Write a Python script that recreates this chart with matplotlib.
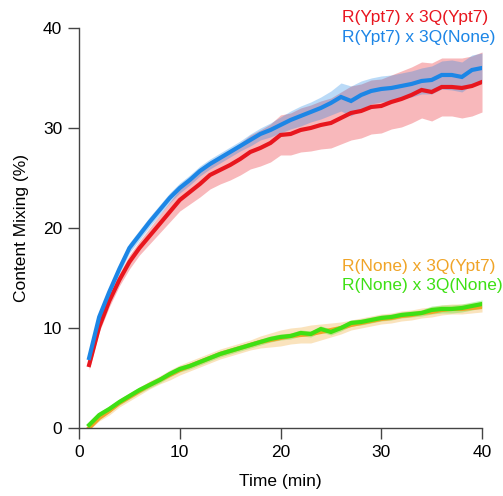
import matplotlib
matplotlib.use("Agg")
import matplotlib.pyplot as plt
import numpy as np

plt.rcParams['font.family'] = ['Liberation Sans', 'DejaVu Sans']

time_min = list(range(1, 41))

ypt7_ypt7 = [6.3, 10.1, 12.7, 14.8, 16.6, 18.0, 19.2, 20.4, 21.6, 22.8,
             23.6, 24.4, 25.3, 25.8, 26.3, 26.9, 27.6, 28.0, 28.5, 29.3,
             29.4, 29.8, 30.0, 30.3, 30.5, 31.0, 31.5, 31.7, 32.1, 32.2,
             32.6, 32.9, 33.3, 33.8, 33.6, 34.1, 34.1, 34.0, 34.2, 34.6]
ypt7_ypt7_err = [0.5, 0.5, 0.6, 0.6, 0.7, 0.7, 0.8, 0.9, 1.0, 1.1,
                 1.2, 1.3, 1.4, 1.4, 1.5, 1.6, 1.7, 1.8, 1.9, 2.0,
                 2.1, 2.2, 2.3, 2.4, 2.5, 2.6, 2.7, 2.7, 2.7, 2.7,
                 2.7, 2.8, 2.8, 2.8, 2.9, 2.9, 2.9, 3.0, 3.0, 3.0]

ypt7_none = [7.0, 11.1, 13.6, 15.9, 18.0, 19.3, 20.6, 21.8, 23.0, 24.0,
             24.8, 25.7, 26.4, 27.0, 27.6, 28.2, 28.8, 29.4, 29.8, 30.3,
             30.8, 31.2, 31.6, 32.0, 32.5, 33.1, 32.7, 33.3, 33.7, 33.9,
             34.0, 34.2, 34.4, 34.7, 34.8, 35.3, 35.3, 35.1, 35.8, 36.0]
ypt7_none_err = [0.3, 0.4, 0.4, 0.5, 0.5, 0.5, 0.5, 0.5, 0.5, 0.5,
                 0.5, 0.5, 0.5, 0.5, 0.5, 0.5, 0.6, 0.6, 0.7, 0.8,
                 0.9, 1.0, 1.0, 1.1, 1.2, 1.4, 1.5, 1.4, 1.3, 1.3,
                 1.3, 1.3, 1.3, 1.3, 1.4, 1.4, 1.5, 1.5, 1.5, 1.5]

none_ypt7 = [0.0, 1.0, 1.7, 2.5, 3.1, 3.7, 4.3, 4.8, 5.3, 5.8,
             6.2, 6.6, 7.0, 7.4, 7.7, 8.0, 8.3, 8.6, 8.8, 9.0,
             9.2, 9.3, 9.4, 9.6, 9.8, 10.0, 10.3, 10.5, 10.7, 10.9,
             11.0, 11.2, 11.3, 11.5, 11.6, 11.8, 11.9, 11.9, 12.0, 12.1]
none_ypt7_err = [0.2, 0.3, 0.4, 0.4, 0.4, 0.4, 0.4, 0.4, 0.5, 0.5,
                 0.5, 0.5, 0.5, 0.5, 0.5, 0.5, 0.5, 0.6, 0.7, 0.8,
                 0.8, 0.8, 0.9, 0.8, 0.7, 0.6, 0.5, 0.5, 0.5, 0.5,
                 0.5, 0.5, 0.5, 0.5, 0.5, 0.5, 0.5, 0.5, 0.5, 0.5]

none_none = [0.3, 1.3, 1.9, 2.6, 3.2, 3.8, 4.3, 4.8, 5.4, 5.9,
             6.2, 6.6, 7.0, 7.4, 7.7, 8.0, 8.3, 8.6, 8.9, 9.1,
             9.2, 9.5, 9.4, 9.9, 9.6, 10.0, 10.5, 10.6, 10.8, 11.0,
             11.1, 11.3, 11.4, 11.5, 11.8, 11.9, 11.9, 12.0, 12.2, 12.4]
none_none_err = [0.2, 0.3, 0.3, 0.3, 0.3, 0.3, 0.3, 0.3, 0.3, 0.3,
                 0.3, 0.3, 0.3, 0.3, 0.3, 0.3, 0.3, 0.3, 0.3, 0.3,
                 0.3, 0.3, 0.3, 0.3, 0.3, 0.3, 0.3, 0.3, 0.3, 0.3,
                 0.3, 0.3, 0.3, 0.3, 0.4, 0.4, 0.4, 0.4, 0.4, 0.4]

labels = ["R(Ypt7) x 3Q(Ypt7)", "R(Ypt7) x 3Q(None)",
          "R(None) x 3Q(Ypt7)", "R(None) x 3Q(None)"]
colors = ["#e8161e", "#1c86e6", "#f0a427", "#3ee014"]

fig = plt.figure(figsize=(5.03, 4.96), dpi=100)
ax = fig.add_axes([0.1571, 0.1371, 0.8012, 0.8065])

t = np.array(time_min)
series = [(ypt7_ypt7, ypt7_ypt7_err), (ypt7_none, ypt7_none_err),
          (none_ypt7, none_ypt7_err), (none_none, none_none_err)]
for (vals, err), c in zip(series, colors):
    v = np.array(vals); e = np.array(err)
    ax.fill_between(t, v - e, v + e, color=c, alpha=0.3, linewidth=0)
for (vals, err), c in zip(series, colors):
    ax.plot(t, vals, color=c, linewidth=3.0, solid_joinstyle='miter')

ax.set_xlim(0, 40)
ax.set_ylim(0, 40)
ax.set_xticks([0, 10, 20, 30, 40])
ax.set_yticks([0, 10, 20, 30, 40])
for s in ['top', 'right']:
    ax.spines[s].set_visible(False)
for s in ['left', 'bottom']:
    ax.spines[s].set_color('#444444')
    ax.spines[s].set_linewidth(1.0)
ax.tick_params(direction='out', length=8, width=1.0, color='#444444',
               labelsize=12.5, pad=4)
ax.set_xlabel("Time (min)", fontsize=12.5, labelpad=10)
ax.set_ylabel("Content Mixing (%)", fontsize=12.5, labelpad=10)

ys = [0.9657, 0.9245, 0.4617, 0.4234]
for lab, c, y in zip(labels, colors, ys):
    fig.text(0.68, y, lab, color=c, fontsize=12.5, ha='left', va='center')

fig.savefig("out.png", dpi=100)
